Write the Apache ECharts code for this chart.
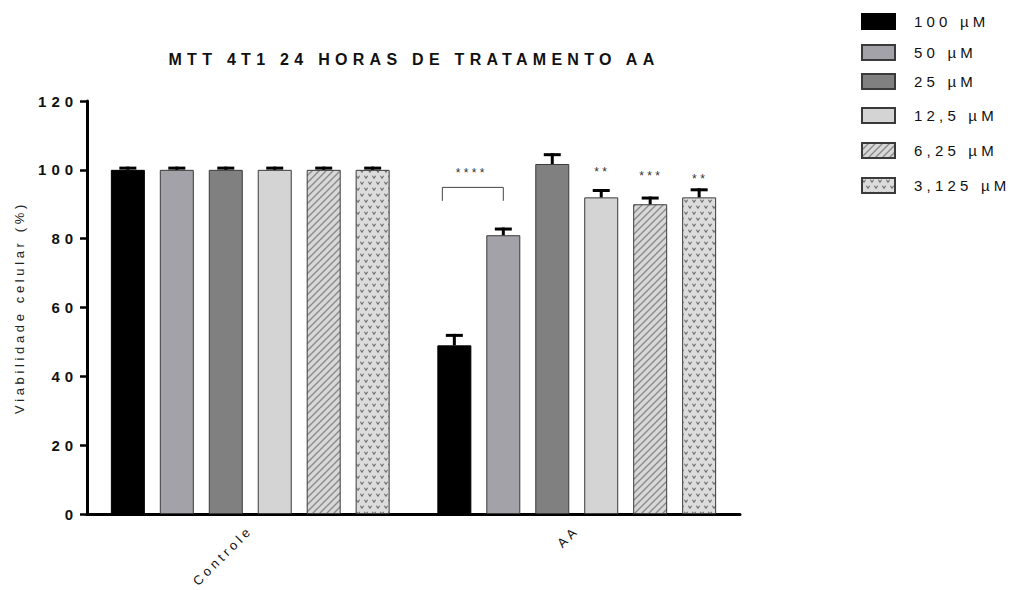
<!DOCTYPE html>
<html>
<head>
<meta charset="utf-8">
<title>MTT 4T1 24 HORAS DE TRATAMENTO AA</title>
<script src="https://cdn.jsdelivr.net/npm/echarts@6/dist/echarts.min.js"></script>
<style>
  html, body { margin: 0; padding: 0; background: #ffffff; }
  #chart { width: 1015px; height: 590px; }
</style>
</head>
<body>
<div id="chart"></div>
<script>
// ---- data ----
const groups = ['Controle', 'AA'];
const concentrations = ['100 µM', '50 µM', '25 µM', '12,5 µM', '6,25 µM', '3,125 µM'];
const controleMean = [100, 100, 100, 100, 100, 100];
const controleErr = [0.5, 0.5, 0.5, 0.5, 0.5, 0.5];
const aaMean = [49, 81, 101.7, 92, 90, 92];
const aaErr = [2.9, 1.8, 2.7, 2.0, 1.8, 2.2];
const yTicks = [0, 20, 40, 60, 80, 100, 120];

// significance marks over the AA bars (vs. Controle)
const starLabels = ['', '', '', '**', '***', '**'];
const starLevels = [null, null, null, 99.4, 98.3, 97.4];
// bracket between 100 µM and 50 µM in AA
const bracketPair = [0, 1];
const bracketTop = 94.9;
const bracketFoot = 91;
const bracketLabel = '****';
const bracketLabelLevel = 99.1;

// ---- style ----
const FONT = '"Liberation Sans", Arial, Helvetica, sans-serif';
const BAR_W = 34;
const BAR_GAP = 0.44;
const STEP = BAR_W * (1 + BAR_GAP);
const CAP_HALF = 8.5;

function hatchPattern() {
  const c = document.createElement('canvas');
  c.width = 7; c.height = 7;
  const g = c.getContext('2d');
  g.fillStyle = '#d8d8d8';
  g.fillRect(0, 0, 7, 7);
  g.strokeStyle = '#8a8a8a';
  g.lineWidth = 1.4;
  g.beginPath();
  g.moveTo(-1, 8); g.lineTo(8, -1);
  g.moveTo(-1, 1); g.lineTo(1, -1);
  g.moveTo(6, 8); g.lineTo(8, 6);
  g.stroke();
  return { image: c, repeat: 'repeat', imageWidth: 7, imageHeight: 7 };
}

function dotPattern() {
  const c = document.createElement('canvas');
  c.width = 8; c.height = 12;
  const g = c.getContext('2d');
  g.fillStyle = '#dcdcdc';
  g.fillRect(0, 0, 8, 12);
  g.strokeStyle = '#6e6e6e';
  g.lineWidth = 1.1;
  const vee = (x, y) => {
    g.beginPath();
    g.moveTo(x - 1.6, y - 1.2); g.lineTo(x, y + 1.2); g.lineTo(x + 1.6, y - 1.2);
    g.stroke();
  };
  vee(2, 3);
  vee(6, 9);
  return { image: c, repeat: 'repeat', imageWidth: 8, imageHeight: 12 };
}

const fills = ['#000000', '#a3a2a8', '#808080', '#d4d4d4', hatchPattern(), dotPattern()];
const borders = ['#000000', '#3a3a3a', '#3a3a3a', '#3a3a3a', '#3a3a3a', '#3a3a3a'];

const barSeries = concentrations.map((name, i) => ({
  name: name,
  type: 'bar',
  barWidth: BAR_W,
  barGap: (BAR_GAP * 100) + '%',
  data: [controleMean[i], aaMean[i]],
  itemStyle: { color: fills[i], borderColor: borders[i], borderWidth: 1 },
  emphasis: { disabled: true },
  silent: true,
  z: 2
}));

const errorSeries = concentrations.map((name, i) => ({
  name: 'err-' + name,
  type: 'custom',
  silent: true,
  z: 3,
  data: [[0, controleMean[i], controleErr[i]], [1, aaMean[i], aaErr[i]]],
  encode: { x: 0, y: 1 },
  renderItem: function (params, api) {
    const cat = api.value(0), v = api.value(1), e = api.value(2);
    const base = api.coord([cat, v]);
    const top = api.coord([cat, v + e]);
    const x = base[0] + (i - 2.5) * STEP;
    return {
      type: 'group',
      children: [
        { type: 'line', shape: { x1: x, y1: base[1], x2: x, y2: top[1] - 1.5 }, style: { stroke: '#000', lineWidth: 3 } },
        { type: 'line', shape: { x1: x - CAP_HALF, y1: top[1], x2: x + CAP_HALF, y2: top[1] }, style: { stroke: '#000', lineWidth: 3 } }
      ]
    };
  }
}));

// stars over single bars
const starData = [];
starLabels.forEach((s, i) => { if (s) starData.push([1, starLevels[i], i]); });

const starSeries = {
  name: 'stars',
  type: 'custom',
  silent: true,
  z: 4,
  data: starData,
  encode: { x: 0, y: 1 },
  renderItem: function (params, api) {
    const idx = api.value(2);
    const p = api.coord([api.value(0), api.value(1)]);
    return {
      type: 'text',
      style: {
        x: p[0] + (idx - 2.5) * STEP + 1,
        y: p[1],
        text: starLabels[idx],
        align: 'center',
        verticalAlign: 'middle',
        fill: '#333',
        font: '12px ' + FONT
      }
    };
  }
};

const bracketSeries = {
  name: 'bracket',
  type: 'custom',
  silent: true,
  z: 4,
  data: [[1, bracketTop, bracketFoot, bracketLabelLevel]],
  encode: { x: 0, y: 1 },
  renderItem: function (params, api) {
    const c = api.coord([api.value(0), api.value(1)]);
    const foot = api.coord([api.value(0), api.value(2)])[1];
    const lab = api.coord([api.value(0), api.value(3)])[1];
    const xa = c[0] + (bracketPair[0] - 2.5) * STEP - 12;
    const xb = c[0] + (bracketPair[1] - 2.5) * STEP;
    return {
      type: 'group',
      children: [
        {
          type: 'polyline',
          shape: { points: [[xa, foot], [xa, c[1]], [xb, c[1]], [xb, foot]] },
          style: { stroke: '#444', lineWidth: 1, fill: null }
        },
        {
          type: 'text',
          style: {
            x: (xa + xb) / 2 - 1, y: lab, text: bracketLabel,
            align: 'center', verticalAlign: 'middle',
            fill: '#333', font: '12px ' + FONT
          }
        }
      ]
    };
  }
};

// one legend block per concentration, stacked down the right side
const legendRows = [22, 53, 82, 116, 151, 186];
const legends = concentrations.map((name, i) => ({
  data: [{ name: name, icon: 'rect' }],
  left: 861,
  top: legendRows[i] - 9,
  padding: 0,
  orient: 'vertical',
  selectedMode: false,
  itemWidth: 33,
  itemHeight: 15,
  textStyle: { fontFamily: FONT, fontSize: 15, color: '#111', padding: [0, 0, 0, 14] }
}));

const chart = echarts.init(document.getElementById('chart'), null, { renderer: 'svg' });

// widely tracked lettering, as in the typeset figure
chart.on('finished', function () {
  document.querySelectorAll('#chart text').forEach(function (t) {
    const w = parseInt(getComputedStyle(t).fontWeight, 10);
    const ls = w >= 600 ? '0.33em' : '0.28em';
    if (t.style.letterSpacing !== ls) t.style.letterSpacing = ls;
  });
});

chart.setOption({
  animation: false,
  backgroundColor: '#ffffff',
  title: {
    text: 'MTT 4T1 24 HORAS DE TRATAMENTO AA',
    left: 414,
    top: 51,
    textAlign: 'center',
    padding: 0,
    textStyle: { fontFamily: FONT, fontSize: 16, fontWeight: 'bold', color: '#111' }
  },
  legend: legends,
  grid: { left: 87, right: 275, top: 101, bottom: 76, containLabel: false },
  xAxis: {
    type: 'category',
    data: groups,
    axisLine: { lineStyle: { color: '#000', width: 3 } },
    axisTick: { alignWithLabel: true, length: 7, lineStyle: { color: '#000', width: 2.5 } },
    axisLabel: { rotate: 45, margin: 14, fontFamily: FONT, fontSize: 13, color: '#111' },
    splitLine: { show: false }
  },
  yAxis: {
    type: 'value',
    min: yTicks[0],
    max: yTicks[yTicks.length - 1],
    interval: yTicks[1] - yTicks[0],
    name: 'Viabilidade celular (%)',
    nameLocation: 'middle',
    nameGap: 61,
    nameTextStyle: { fontFamily: FONT, fontSize: 13, color: '#222' },
    axisLine: { show: true, lineStyle: { color: '#000', width: 3 } },
    axisTick: { show: true, length: 7, lineStyle: { color: '#000', width: 2.5 } },
    axisLabel: { margin: 9, fontFamily: FONT, fontSize: 15, fontWeight: 'bold', color: '#111' },
    splitLine: { show: false }
  },
  series: barSeries.concat(errorSeries, [starSeries, bracketSeries])
});
</script>
</body>
</html>
